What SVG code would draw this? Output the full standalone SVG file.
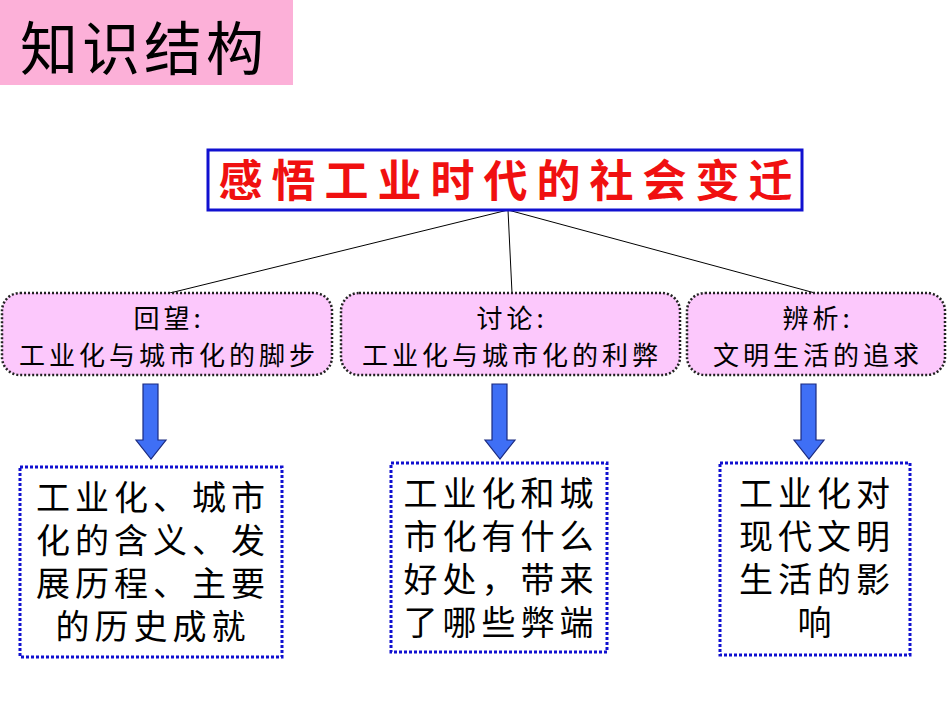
<svg xmlns="http://www.w3.org/2000/svg" width="950" height="713" viewBox="0 0 950 713">
<defs><style>
.cn{font-family:"Noto Sans CJK SC",sans-serif;}
.mid{fill:#fcc8fc;stroke:#222;stroke-width:2.5;stroke-dasharray:2 2}
.mt{font-size:26px;fill:#000;text-anchor:middle;letter-spacing:4px}
.bot{fill:#fff;stroke:#1010d0;stroke-width:3;stroke-dasharray:3 2}
.bt{font-size:34px;fill:#000;text-anchor:middle;letter-spacing:5px}
.arr{fill:#3f6ff5;stroke:#1a2a80;stroke-width:1.2}
</style></defs>
<rect width="950" height="713" fill="#fff"/>
<g id="header"><rect x="0" y="0" width="293" height="85" fill="#fcb0d8"/><text class="cn" x="20" y="70" font-size="58" fill="#000" letter-spacing="4">知识结构</text></g>
<g id="connectors" stroke="#000" stroke-width="1" fill="none">
<line x1="508" y1="210" x2="170" y2="293"/><line x1="508" y1="210" x2="512" y2="293"/><line x1="508" y1="210" x2="815" y2="293"/>
<path class="arr" d="M143 384H158V440H166L151 459L136 440H143Z"/>
<path class="arr" d="M492 384H507V440H515L500 459L485 440H492Z"/>
<path class="arr" d="M801 384H816V440H824L809 459L794 440H801Z"/>
</g>
<g id="title"><rect x="208" y="150" width="594" height="60" fill="#fff" stroke="#1010d0" stroke-width="3"/><text class="cn" x="510" y="197" font-size="44" font-weight="bold" fill="#f01010" text-anchor="middle" letter-spacing="9">感悟工业时代的社会变迁</text></g>
<g id="n1"><rect class="mid" x="2" y="293" width="330" height="82" rx="18"/><text class="cn mt" x="169" y="328">回望:</text><text class="cn mt" x="169" y="365">工业化与城市化的脚步</text></g>
<g id="n2"><rect class="mid" x="341" y="293" width="339" height="82" rx="18"/><text class="cn mt" x="512" y="328">讨论:</text><text class="cn mt" x="512" y="365">工业化与城市化的利弊</text></g>
<g id="n3"><rect class="mid" x="687" y="293" width="258" height="82" rx="18"/><text class="cn mt" x="818" y="328">辨析:</text><text class="cn mt" x="818" y="365">文明生活的追求</text></g>
<g id="b1"><rect class="bot" x="20" y="467" width="262" height="190"/><text class="cn bt" x="153" y="510">工业化、城市</text><text class="cn bt" x="153" y="553">化的含义、发</text><text class="cn bt" x="153" y="596">展历程、主要</text><text class="cn bt" x="153" y="639">的历史成就</text></g>
<g id="b2"><rect class="bot" x="391" y="463" width="216" height="189"/><text class="cn bt" x="501" y="506">工业化和城</text><text class="cn bt" x="501" y="549">市化有什么</text><text class="cn bt" x="501" y="592">好处，带来</text><text class="cn bt" x="501" y="635">了哪些弊端</text></g>
<g id="b3"><rect class="bot" x="720" y="463" width="190" height="192"/><text class="cn bt" x="817" y="506">工业化对</text><text class="cn bt" x="817" y="549">现代文明</text><text class="cn bt" x="817" y="592">生活的影</text><text class="cn bt" x="817" y="635">响</text></g>
</svg>
